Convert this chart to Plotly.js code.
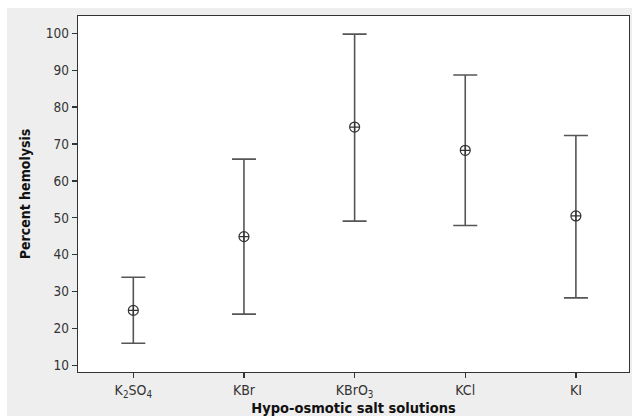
<!DOCTYPE html>
<html>
<head>
<meta charset="utf-8">
<script src="https://cdn.plot.ly/plotly-3.0.1.min.js"></script>
<style>
html,body{margin:0;padding:0;background:#ffffff;}
#chart{position:absolute;left:7px;top:8px;width:625px;height:408px;}
</style>
</head>
<body>
<div id="chart"></div>
<script>
const categories = ["K<sub>2</sub>SO<sub>4</sub>", "KBr", "KBrO<sub>3</sub>", "KCl", "KI"];
const means = [24.9, 44.9, 74.6, 68.3, 50.5];
const upper = [33.9, 65.9, 99.8, 88.7, 72.3];
const lower = [16.0, 23.9, 49.1, 47.9, 28.3];
const yTicks = [10, 20, 30, 40, 50, 60, 70, 80, 90, 100];

const errPlus = upper.map((u, i) => u - means[i]);
const errMinus = lower.map((l, i) => means[i] - l);

const trace = {
  type: 'scatter',
  mode: 'markers',
  x: categories,
  y: means,
  marker: {symbol: 'circle-cross-open', size: 10, color: '#333333', line: {width: 1.2, color: '#333333'}},
  error_y: {
    type: 'data', symmetric: false,
    array: errPlus, arrayminus: errMinus,
    color: '#555555', thickness: 1.6, width: 12
  },
  hoverinfo: 'x+y'
};

const font = "'DejaVu Sans Condensed', 'DejaVu Sans', sans-serif";

const layout = {
  width: 625, height: 408,
  paper_bgcolor: '#eeeeee',
  plot_bgcolor: '#ffffff',
  margin: {l: 71, r: 3, t: 8, b: 44},
  showlegend: false,
  font: {family: font, size: 13, color: '#333333'},
  xaxis: {
    type: 'category',
    range: [-0.5, 4.48],
    showgrid: false, zeroline: false,
    showline: true, mirror: true, linecolor: '#333333', linewidth: 1.3,
    ticks: 'outside', ticklen: 5, tickcolor: '#333333', tickwidth: 1.3,
    tickfont: {family: font, size: 14, color: '#333333'},
    title: {text: 'Hypo-osmotic salt solutions', standoff: 0,
            font: {family: font, size: 14.5, color: '#111111', weight: 'bold'}},
    automargin: false
  },
  yaxis: {
    range: [8.2, 104.7],
    tickvals: yTicks,
    showgrid: false, zeroline: false,
    showline: true, mirror: true, linecolor: '#333333', linewidth: 1.3,
    ticks: 'outside', ticklen: 5, tickcolor: '#333333', tickwidth: 1.3,
    tickfont: {family: font, size: 13.5, color: '#333333'},
    title: {text: 'Percent hemolysis', standoff: 12,
            font: {family: font, size: 14, color: '#111111', weight: 'bold'}},
    automargin: false
  }
};

Plotly.newPlot('chart', [trace], layout, {displayModeBar: false, staticPlot: true});
</script>
</body>
</html>
